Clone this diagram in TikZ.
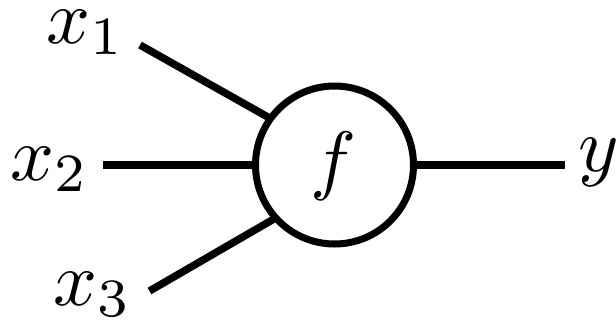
\documentclass[tikz,border=0pt]{standalone}
\begin{document}
\begin{tikzpicture}[x=1pt,y=-1pt,
  wire/.style={line width=7.5pt},
  lbl/.style={inner sep=0pt,outer sep=0pt,scale=7.7},
  unit/.style={circle,draw,line width=7pt,minimum size=158pt,inner sep=0pt,outer sep=0pt}]
\useasboundingbox (0,0) rectangle (616,322);
\node[unit] (f) at (334.5,165) {};
\node[lbl] (fl) at (333,166) {$f$};
\node[lbl,anchor=base west] (x1) at (46,43) {$x_1$};
\node[lbl,anchor=base west] (x2) at (10,180) {$x_2$};
\node[lbl,anchor=base west] (x3) at (53,305) {$x_3$};
\node[lbl,anchor=base west] (y) at (578,171) {$y$};
\coordinate (a1) at (140,45);
\coordinate (a2) at (103,165);
\coordinate (a3) at (149.5,291);
\coordinate (b) at (565,165);
\draw[wire] (a1) -- (f.144);
\draw[wire] (a2) -- (f.west);
\draw[wire] (a3) -- (f.222);
\draw[wire] (f.east) -- (b);
\end{tikzpicture}
\end{document}
